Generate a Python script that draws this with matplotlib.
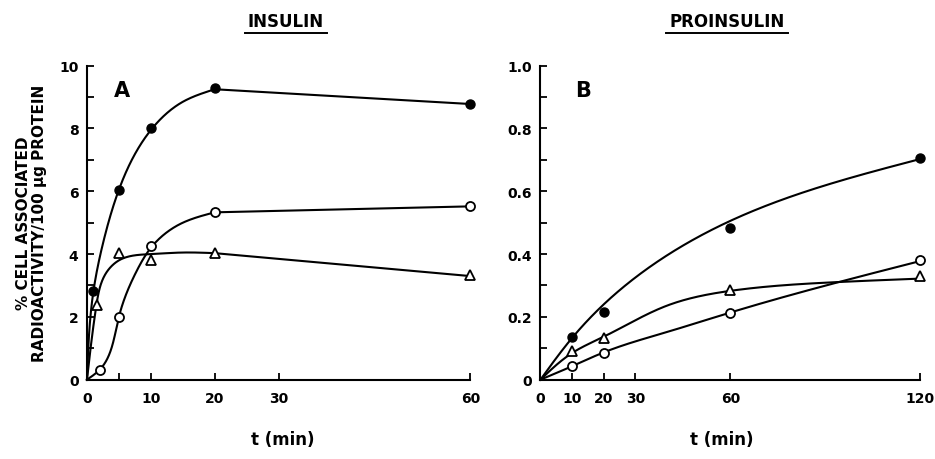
import numpy as np
import matplotlib
matplotlib.use("Agg")
import matplotlib.pyplot as plt
from matplotlib.lines import Line2D

plt.rcParams['font.family'] = ['DejaVu Sans']
plt.rcParams['font.weight'] = 'bold'
plt.rcParams['axes.labelweight'] = 'bold'

# ---- panel A : insulin (data points) ----
a_t_fill = [1, 5, 10, 20, 60]
a_y_fill = [2.83, 6.05, 8.0, 9.28, 8.78]
a_t_open = [2, 5, 10, 20, 60]
a_y_open = [0.32, 2.0, 4.27, 5.35, 5.52]
a_t_tri = [1.5, 5, 10, 20, 60]
a_y_tri = [2.38, 4.03, 3.82, 4.05, 3.32]

# panel A fitted curves, straight tail to 60 min
a_fit_t_fill = [0, 1, 2.7, 5, 10, 15, 20]
a_fit_y_fill = [0, 2.8, 4.5, 6.05, 7.95, 8.85, 9.25]
a_fit_t_open = [0, 2, 5, 7.8, 10, 14.6, 20]
a_fit_y_open = [0, 0.32, 2.0, 3.47, 4.2, 4.96, 5.33]
a_fit_t_tri = [0, 1.5, 3, 5, 10, 15, 20]
a_fit_y_tri = [0, 2.4, 3.4, 3.8, 4.0, 4.05, 4.03]
a_tail_t = 60
a_tail_fill, a_tail_open, a_tail_tri = 8.78, 5.52, 3.3

# ---- panel B : proinsulin (data points) ----
b_t = [10, 20, 60, 120]
b_y_fill = [0.135, 0.217, 0.482, 0.705]
b_y_tri = [0.09, 0.133, 0.287, 0.33]
b_y_open = [0.045, 0.085, 0.212, 0.382]

# panel B fitted curves
b_fit_t_fill = [0, 10, 20, 60, 120]
b_fit_y_fill = [0, 0.133, 0.24, 0.506, 0.703]
b_fit_t_tri = [0, 10, 20, 40, 60, 92, 120]
b_fit_y_tri = [0, 0.085, 0.137, 0.236, 0.283, 0.31, 0.322]
b_fit_t_open = [0, 10, 20, 40, 60, 92, 120]
b_fit_y_open = [0, 0.043, 0.087, 0.152, 0.214, 0.305, 0.378]


def natural(x, y, xs):
    # natural cubic spline of y(x), evaluated at xs
    k = len(x)
    h = np.diff(x)
    A = np.zeros((k, k))
    rhs = np.zeros(k)
    A[0, 0] = A[-1, -1] = 1
    for i in range(1, k - 1):
        A[i, i - 1] = h[i - 1]
        A[i, i] = 2 * (h[i - 1] + h[i])
        A[i, i + 1] = h[i]
        rhs[i] = 6 * ((y[i + 1] - y[i]) / h[i] - (y[i] - y[i - 1]) / h[i - 1])
    M = np.linalg.solve(A, rhs)
    j = np.clip(np.searchsorted(x, xs) - 1, 0, k - 2)
    a = x[j + 1] - xs
    b = xs - x[j]
    hj = h[j]
    return (M[j] * a**3 + M[j + 1] * b**3) / (6 * hj) \
        + (y[j] / hj - M[j] * hj / 6) * a + (y[j + 1] / hj - M[j + 1] * hj / 6) * b


def curve(t, y, sx, sy, n=400):
    # parametric spline, chord length measured in screen pixels
    X = np.asarray(t, float) * sx
    Y = np.asarray(y, float) * sy
    s = np.concatenate([[0], np.cumsum(np.hypot(np.diff(X), np.diff(Y)))])
    ss = np.linspace(0, s[-1], n)
    return natural(s, X, ss) / sx, natural(s, Y, ss) / sy


LW = 1.5
fig = plt.figure(figsize=(9.35, 4.6), dpi=100)
axA = fig.add_axes([0.093, 0.1724, 0.410, 0.6826])
axB = fig.add_axes([0.578, 0.1724, 0.4064, 0.6826])

mk_fill = dict(marker='o', ms=6.5, color='black', mfc='black', ls='none', clip_on=False, zorder=4)
mk_open = dict(marker='o', ms=6.5, color='black', mfc='white', mew=1.3, ls='none', clip_on=False, zorder=4)
mk_tri = dict(marker='^', ms=6.5, color='black', mfc='white', mew=1.3, ls='none', clip_on=False, zorder=4)

# curves A
sxA, syA = 383 / 60, 314 / 10
for ft, fy, tail in [(a_fit_t_fill, a_fit_y_fill, a_tail_fill),
                     (a_fit_t_open, a_fit_y_open, a_tail_open),
                     (a_fit_t_tri, a_fit_y_tri, a_tail_tri)]:
    xs, ys = curve(ft, fy, sxA, syA)
    xs = np.append(xs, a_tail_t)
    ys = np.append(ys, tail)
    axA.plot(xs, ys, color='black', lw=LW, clip_on=False, zorder=3)
axA.plot(a_t_fill, a_y_fill, **mk_fill)
axA.plot(a_t_open, a_y_open, **mk_open)
axA.plot(a_t_tri, a_y_tri, **mk_tri)

# curves B
sxB, syB = 380 / 120, 314 / 1.0
for ft, fy in [(b_fit_t_fill, b_fit_y_fill), (b_fit_t_tri, b_fit_y_tri), (b_fit_t_open, b_fit_y_open)]:
    xs, ys = curve(ft, fy, sxB, syB)
    axB.plot(xs, ys, color='black', lw=LW, clip_on=False, zorder=3)
axB.plot(b_t, b_y_fill, **mk_fill)
axB.plot(b_t, b_y_tri, **mk_tri)
axB.plot(b_t, b_y_open, **mk_open)

for ax in (axA, axB):
    ax.spines['top'].set_visible(False)
    ax.spines['right'].set_visible(False)
    ax.spines['left'].set_linewidth(LW)
    ax.spines['bottom'].set_linewidth(LW)
    ax.tick_params(which='both', direction='in', width=1.3, labelsize=10, length=5)
    ax.tick_params(axis='y', pad=6)
    ax.tick_params(axis='x', pad=8)

axA.set_xlim(0, 60)
axA.set_ylim(0, 10)
axA.set_xticks([0, 10, 20, 30, 60])
axA.set_xticks([5], minor=True)
axA.set_yticks([0, 2, 4, 6, 8, 10])
axA.set_yticks([1, 3, 5, 7, 9], minor=True)
axA.text(0.07, 0.955, 'A', transform=axA.transAxes, fontsize=15, ha='left', va='top')

axB.set_xlim(0, 120)
axB.set_ylim(0, 1.0)
axB.set_xticks([0, 10, 20, 30, 60, 120])
axB.set_yticks([0, 0.2, 0.4, 0.6, 0.8, 1.0])
axB.set_yticklabels(['0', '0.2', '0.4', '0.6', '0.8', '1.0'])
axB.set_yticks([0.1, 0.3, 0.5, 0.7, 0.9], minor=True)
axB.text(0.09, 0.955, 'B', transform=axB.transAxes, fontsize=15, ha='left', va='top')

axA.set_ylabel('% CELL ASSOCIATED\nRADIOACTIVITY/100 \u03bcg PROTEIN', fontsize=11,
               fontweight='bold', linespacing=1.1, labelpad=9)

fig.text(283 / 935, 1 - 440 / 460, 't (min)', fontsize=12, ha='center', va='center')
fig.text(722 / 935, 1 - 440 / 460, 't (min)', fontsize=12, ha='center', va='center')

titles = [fig.text(286 / 935, 1 - 22 / 460, 'INSULIN', fontsize=12, ha='center', va='center'),
          fig.text(727 / 935, 1 - 22 / 460, 'PROINSULIN', fontsize=12, ha='center', va='center')]
fig.canvas.draw()
r = fig.canvas.get_renderer()
for t in titles:
    bb = t.get_window_extent(r).transformed(fig.transFigure.inverted())
    yline = bb.y0 - 3 / 460
    fig.add_artist(Line2D([bb.x0 - 3 / 935, bb.x1 + 3 / 935], [yline, yline],
                          transform=fig.transFigure, color='black', lw=1.4))

fig.savefig('out.png', dpi=100)
